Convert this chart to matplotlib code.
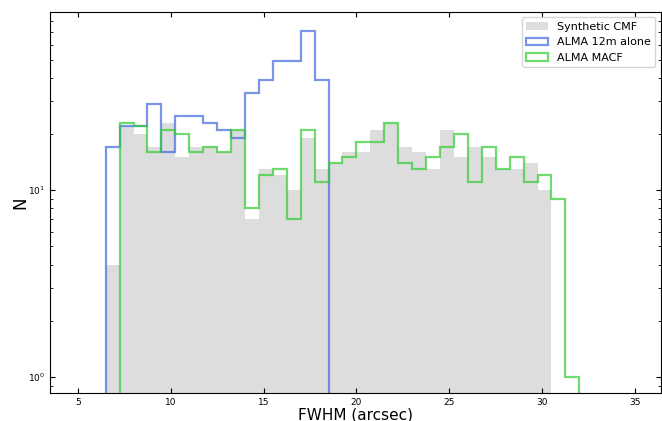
import numpy as np
import matplotlib
matplotlib.use('Agg')
import matplotlib.pyplot as plt
from matplotlib.patches import Patch

# bins of width 0.75 arcsec starting at 6.5
bin_start = 6.5
bin_width = 0.75

synthetic = [4, 22, 20, 17, 23, 15, 17, 17, 16, 21, 7, 13, 12, 10, 19, 13,
             14, 16, 16, 21, 23, 17, 16, 13, 21, 15, 17, 15, 13, 13, 14, 10]
alma_12m = [17, 22, 22, 29, 16, 25, 25, 23, 21, 19, 33, 39, 49, 49, 71, 39]
# MACF starts one bin later (7.25)
alma_macf = [23, 22, 16, 21, 20, 16, 17, 16, 21, 8, 12, 13, 7, 21, 11, 14,
             15, 18, 18, 23, 14, 13, 15, 17, 20, 11, 17, 13, 15, 11, 12, 9, 1]

edges_syn = bin_start + bin_width * np.arange(len(synthetic) + 1)
edges_12m = bin_start + bin_width * np.arange(len(alma_12m) + 1)
edges_macf = bin_start + bin_width * (1 + np.arange(len(alma_macf) + 1))

c_syn = '#dddddd'
c_12m = '#4169e1'
c_macf = '#32cd32'

fig = plt.figure(figsize=(6.62, 4.21), dpi=100)
ax = fig.add_axes([0.0755, 0.066, 0.923, 0.906])

ax.stairs(synthetic, edges_syn, fill=True, color=c_syn, baseline=1e-3)
ax.stairs(alma_12m, edges_12m, color=c_12m, alpha=0.7, lw=1.6, baseline=1e-3)
ax.stairs(alma_macf, edges_macf, color=c_macf, alpha=0.7, lw=1.6, baseline=1e-3)

ax.set_yscale('log')
ax.set_xlim(3.5, 36.4)
ax.set_ylim(0.82, 90)
ax.set_xticks([5, 10, 15, 20, 25, 30, 35])
ax.tick_params(which='both', direction='in', top=True, right=True,
               labelsize=6.5)
ax.set_xlabel('FWHM (arcsec)', fontsize=11, labelpad=0)
ax.set_ylabel('N', fontsize=12, labelpad=-1)

handles = [Patch(facecolor=c_syn, edgecolor='none', label='Synthetic CMF'),
           Patch(facecolor='none', edgecolor=c_12m, alpha=0.7, lw=1.6,
                 label='ALMA 12m alone'),
           Patch(facecolor='none', edgecolor=c_macf, alpha=0.7, lw=1.6,
                 label='ALMA MACF')]
ax.legend(handles=handles, loc='upper right', fontsize=8)

plt.savefig('out.png', dpi=100)
